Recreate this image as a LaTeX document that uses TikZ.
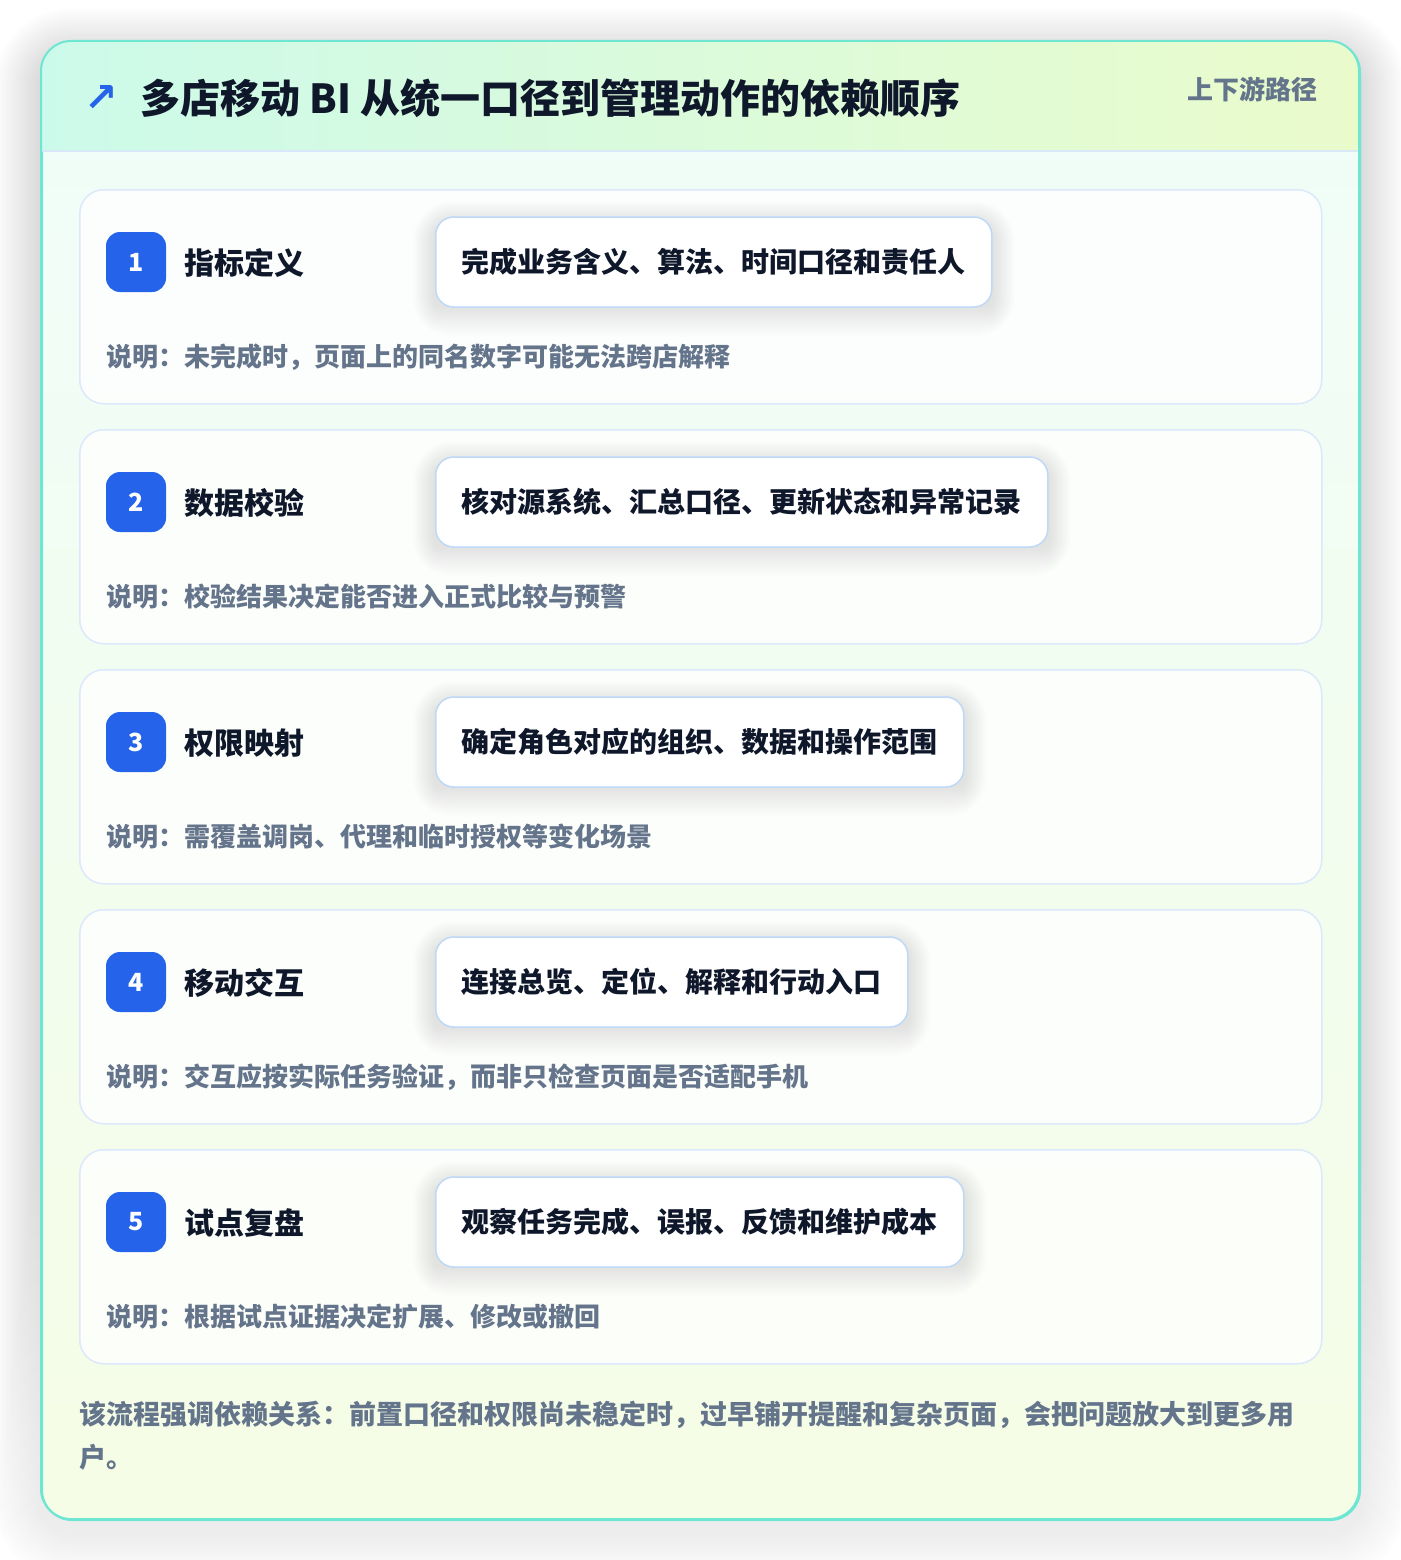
\documentclass[tikz,border=0pt]{standalone}
\usepackage{fontspec}
\setmainfont{Noto Sans CJK SC}
\newfontfamily\symf{DejaVu Sans}
\definecolor{tealb}{HTML}{6EE6D2}
\definecolor{cardb}{HTML}{DCE8FB}
\definecolor{boxb}{HTML}{BFD8F8}
\definecolor{badge}{HTML}{2563EB}
\definecolor{ink}{HTML}{0F172A}
\definecolor{grayt}{HTML}{64748B}
\definecolor{hdrL}{HTML}{CCFAEA}
\definecolor{hdrR}{HTML}{EAFBCB}
\definecolor{bodyT}{HTML}{F0FDF9}
\definecolor{bodyB}{HTML}{F5FDE6}
\definecolor{sepc}{HTML}{D8E8F8}
\definecolor{shade}{HTML}{1E293B}
\pgfdeclarelayer{base}
\pgfdeclarelayer{mid}
\pgfsetlayers{base,mid,main}
\tikzset{
  outercard/.style={draw=tealb, line width=2pt, rounded corners=30pt, top color=bodyT, bottom color=bodyB, inner sep=0pt, anchor=north west, minimum width=1318pt, minimum height=1478pt},
  stepcard/.style={draw=cardb, line width=1.5pt, rounded corners=24pt, fill=white, fill opacity=0.8, inner sep=0pt, anchor=north west, minimum width=1242pt, minimum height=214pt},
  badgebox/.style={fill=badge, rounded corners=14pt, minimum width=60pt, minimum height=60pt, inner sep=0pt, text=white, font=\bfseries\fontsize{25}{28}\selectfont},
  steptitle/.style={anchor=west, inner sep=0pt, text=ink, font=\bfseries\fontsize{30}{36}\selectfont},
  actbox/.style={draw=boxb, line width=1.5pt, rounded corners=18pt, fill=white, anchor=west, inner xsep=26pt, inner ysep=0pt, minimum height=90pt, text=ink, font=\bfseries\fontsize{28}{34}\selectfont},
  desc/.style={anchor=west, inner sep=0pt, text=grayt, font=\bfseries\fontsize{26}{32}\selectfont},
  foot/.style={anchor=west, inner sep=0pt, text=grayt, font=\bfseries\fontsize{27}{34}\selectfont}
}
% soft shadow around a named node: #1 node, #2 corner radius, #3 layers, #4 step, #5 drop, #6 opacity
\newcommand{\softshadow}[6]{%
  \foreach \k in {1,...,#3}{%
    \pgfmathsetmacro{\dd}{\k*#4}%
    \pgfmathsetmacro{\rr}{#2+\k*#4}%
    \fill[shade, opacity=#6, rounded corners=\rr pt]
      ([shift={(-\dd pt,\dd pt-#5pt)}]#1.north west) rectangle ([shift={(\dd pt,-\dd pt-#5pt)}]#1.south east);
  }%
}
\newcommand{\mkstep}[5]{%
  \begin{pgfonlayer}{base}
  \node[stepcard] (card#1) at (79,#2) {};
  \end{pgfonlayer}
  \node[badgebox] (badge#1) at (136,#2+73) {#1};
  \node[steptitle] (title#1) at (184,#2+74) {#3};
  \node[actbox] (act#1) at (435,#2+73) {#4};
  \begin{pgfonlayer}{mid}
  \softshadow{act#1}{18}{9}{2.4}{7}{0.007}
  \end{pgfonlayer}
  \node[desc] (desc#1) at (106,#2+168) {#5};
}
\begin{document}
\begin{tikzpicture}[x=1pt,y=-1pt]
\begin{pgfonlayer}{base}
\useasboundingbox (0,0) rectangle (1400,1560);
\fill[white] (0,0) rectangle (1400,1560);
\coordinate (shA) at (41,41);
\coordinate (shB) at (1359,1519);
\foreach \k in {1,...,18}{%
  \pgfmathsetmacro{\dd}{\k*2.6}%
  \pgfmathsetmacro{\rr}{30+\k*2.6}%
  \fill[shade, opacity=0.0055, rounded corners=\rr pt]
    ([shift={(-\dd pt,\dd pt-14pt)}]shA) rectangle ([shift={(\dd pt,-\dd pt-14pt)}]shB);
}
\node[outercard] (outer) at (41,41) {};
\begin{scope}
  \clip[rounded corners=30pt] (41,41) rectangle (1359,1519);
  \shade[left color=hdrL, right color=hdrR] (41,41) rectangle (1359,151);
\end{scope}
\draw[sepc, line width=1.5pt] (42,151) -- (1358,151);
\draw[tealb, line width=2pt, rounded corners=30pt] (41,41) rectangle (1359,1519);
\end{pgfonlayer}
\node[anchor=west, inner sep=0pt, text=badge, font=\symf\bfseries\fontsize{40}{44}\selectfont] (arrow) at (84,99) {↗};
\node[anchor=west, inner sep=0pt, text=ink, font=\bfseries\fontsize{40}{48}\selectfont] (title) at (140,98) {多店移动 BI 从统一口径到管理动作的依赖顺序};
\node[anchor=east, inner sep=0pt, text=grayt, font=\bfseries\fontsize{26}{32}\selectfont] (tag) at (1318,89) {上下游路径};
\mkstep{1}{189}{指标定义}{完成业务含义、算法、时间口径和责任人}{说明：未完成时，页面上的同名数字可能无法跨店解释}
\mkstep{2}{429}{数据校验}{核对源系统、汇总口径、更新状态和异常记录}{说明：校验结果决定能否进入正式比较与预警}
\mkstep{3}{669}{权限映射}{确定角色对应的组织、数据和操作范围}{说明：需覆盖调岗、代理和临时授权等变化场景}
\mkstep{4}{909}{移动交互}{连接总览、定位、解释和行动入口}{说明：交互应按实际任务验证，而非只检查页面是否适配手机}
\mkstep{5}{1149}{试点复盘}{观察任务完成、误报、反馈和维护成本}{说明：根据试点证据决定扩展、修改或撤回}
\node[foot] (foot1) at (79,1415) {该流程强调依赖关系：前置口径和权限尚未稳定时，过早铺开提醒和复杂页面，会把问题放大到更多用};
\node[foot] (foot2) at (79,1457) {户。};
\end{tikzpicture}
\end{document}
